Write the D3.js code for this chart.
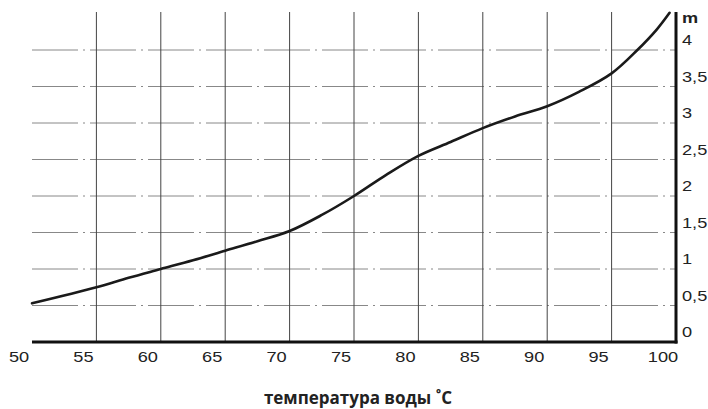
<!DOCTYPE html>
<html>
<head>
<meta charset="utf-8">
<script src="https://cdn.jsdelivr.net/npm/d3@7"></script>
<style>
  body { margin: 0; background: #fff; }
  svg { display: block; }
  .tick-label { font-family: "Liberation Sans", Arial, sans-serif; font-size: 14px; fill: #222; }
  .title { font-family: "Open Sans", "Noto Sans", sans-serif; font-size: 17px; font-weight: bold; fill: #222; }
</style>
</head>
<body>
<div id="chart"></div>
<script>
// temperature of water (°C) vs height (m)
const temps = [50, 55, 57.5, 60, 62.5, 65, 67.5, 70, 72.5, 75, 77.5, 80, 82.5, 85, 87.5, 90, 92.5, 95, 97, 98.5, 99.5];
const heights = [0.53, 0.75, 0.88, 1.0, 1.12, 1.25, 1.38, 1.52, 1.74, 2.0, 2.29, 2.55, 2.74, 2.93, 3.09, 3.23, 3.43, 3.68, 4.0, 4.28, 4.51];

const xTicks = [50, 55, 60, 65, 70, 75, 80, 85, 90, 95, 100];
const xGrid = [55, 60, 65, 70, 75, 80, 85, 90, 95];
const yTicks = [0, 0.5, 1, 1.5, 2, 2.5, 3, 3.5, 4];
const yGrid = [0.5, 1, 1.5, 2, 2.5, 3, 3.5, 4];
const yUnit = "m";
const xTitle = "температура воды ˚C";

const width = 708, height = 409;

const svg = d3.select("#chart").append("svg")
  .attr("width", width)
  .attr("height", height);

const x = d3.scaleLinear().domain([50, 100]).range([32, 676]);
const y = d3.scaleLinear().domain([0, 4]).range([342, 50]);

// horizontal grid (dash-dot)
svg.append("g").selectAll("line")
  .data(yGrid)
  .join("line")
  .attr("x1", x(50))
  .attr("x2", x(100))
  .attr("y1", d => y(d))
  .attr("y2", d => y(d))
  .attr("stroke", "#888")
  .attr("stroke-width", 1)
  .attr("stroke-dasharray", "46,5,2,5");

// vertical grid
svg.append("g").selectAll("line")
  .data(xGrid)
  .join("line")
  .attr("x1", d => x(d))
  .attr("x2", d => x(d))
  .attr("y1", 12)
  .attr("y2", y(0))
  .attr("stroke", "#444")
  .attr("stroke-width", 1);

// axes
svg.append("line")
  .attr("x1", x(50)).attr("x2", x(100) + 1.5)
  .attr("y1", y(0)).attr("y2", y(0))
  .attr("stroke", "#111").attr("stroke-width", 3);

svg.append("line")
  .attr("x1", x(100)).attr("x2", x(100))
  .attr("y1", 12).attr("y2", y(0) + 1.5)
  .attr("stroke", "#111").attr("stroke-width", 3);

// curve
const line = d3.line()
  .x((d, i) => x(temps[i]))
  .y(d => y(d))
  .curve(d3.curveCatmullRom.alpha(0.5));

svg.append("path")
  .datum(heights)
  .attr("d", line)
  .attr("fill", "none")
  .attr("stroke", "#1a1a1a")
  .attr("stroke-width", 2.6)
  .attr("stroke-linecap", "round");

// x tick labels (slightly wide glyphs, like the scan)
svg.append("g").selectAll("g")
  .data(xTicks)
  .join("g")
  .attr("transform", d => `translate(${x(d) - 13},362) scale(1.3,1)`)
  .append("text")
  .attr("class", "tick-label")
  .attr("text-anchor", "middle")
  .text(d => d);

// y tick labels
svg.append("g").selectAll("g")
  .data(yTicks)
  .join("g")
  .attr("transform", d => `translate(682,${y(d) - 5}) scale(1.3,1)`)
  .append("text")
  .attr("class", "tick-label")
  .text(d => String(d).replace(".", ","));

svg.append("g")
  .attr("transform", "translate(682,23) scale(1.3,1)")
  .append("text")
  .attr("class", "tick-label")
  .style("font-weight", "bold")
  .text(yUnit);

// axis title
svg.append("text")
  .attr("class", "title")
  .attr("x", 358)
  .attr("y", 404)
  .attr("text-anchor", "middle")
  .text(xTitle);
</script>
</body>
</html>
